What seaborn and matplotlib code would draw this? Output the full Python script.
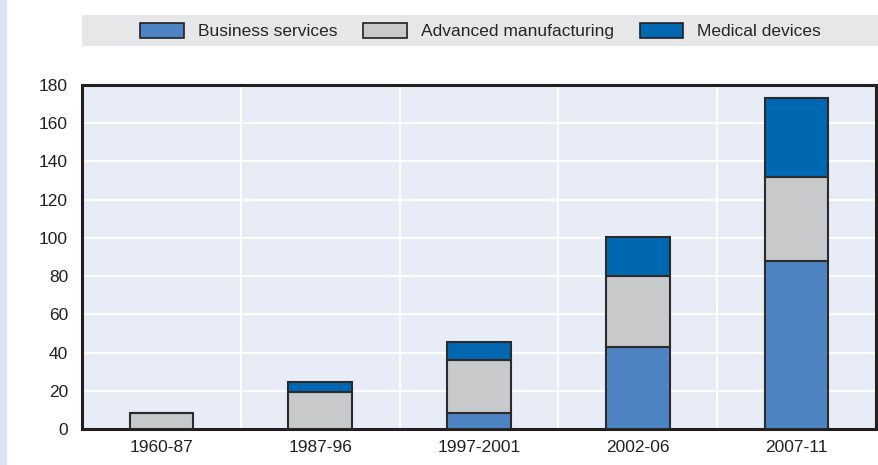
import numpy as np
import matplotlib
matplotlib.use("Agg")
import matplotlib.pyplot as plt
import seaborn as sns
from matplotlib.patches import Rectangle, Patch

periods = ["1960-87", "1987-96", "1997-2001", "2002-06", "2007-11"]
business = [0, 0, 8.5, 43, 88]
advanced = [8.5, 19.5, 27.5, 37, 44]
medical = [0, 5, 9.5, 20.5, 41]

series_names = ["Business services", "Advanced manufacturing", "Medical devices"]
colors = ["#4f84c4", "#c8c9cb", "#0067b1"]

sns.set_theme(style="white")
plt.rcParams['font.family'] = ['Liberation Sans Narrow', 'Liberation Sans', 'DejaVu Sans']

fig = plt.figure(figsize=(8.79, 4.65), dpi=100)
ax = fig.add_axes([82/879, 1-429/465, (876-82)/879, (429-85)/465])

# left strip and legend band
fig.patches.append(Rectangle((0, 0), 7/879, 1, transform=fig.transFigure,
                             facecolor="#dce6f2", edgecolor="none", zorder=0))
fig.patches.append(Rectangle((82/879, 1-46/465), 1-82/879, 31/465, transform=fig.transFigure,
                             facecolor="#e6e7e8", edgecolor="none", zorder=0))

ax.set_facecolor("#e8ecf7")
bottom1 = np.array(business)
bottom2 = bottom1 + np.array(advanced)
stack = [(business, 0), (advanced, bottom1), (medical, bottom2)]
for (vals, bot), c in zip(stack, colors):
    sns.barplot(x=periods, y=vals, bottom=bot, color=c, width=0.4, saturation=1,
                edgecolor="#2b2b2b", linewidth=1.5, ax=ax, zorder=3)

ax.set_xlim(-0.5, 4.5)
ax.set_ylim(0, 180)
ax.set_yticks(range(0, 181, 20))
ax.set_xticks(range(5))
ax.set_xticklabels(periods)
ax.set_xticks(np.arange(0.5, 4.5, 1), minor=True)
ax.grid(True, axis="y", which="major", color="white", linewidth=1.5, zorder=1)
ax.grid(True, axis="x", which="minor", color="white", linewidth=1.5, zorder=1)
ax.grid(False, axis="x", which="major")
ax.set_axisbelow(True)
ax.tick_params(axis="x", which="major", length=0, labelsize=12.5, colors="#231f20", pad=8)
ax.tick_params(axis="x", which="minor", direction="in", length=6, width=1.2, color="#888888")
ax.tick_params(axis="y", direction="in", length=8, width=1, color="#999999", labelsize=12.5,
               labelcolor="#231f20", pad=10)
for s in ax.spines.values():
    s.set_visible(True)
    s.set_color("#231f20")
    s.set_linewidth(2.2)
ax.set_xlabel("")
ax.set_ylabel("")

handles = [Patch(facecolor=c, edgecolor="#231f20", linewidth=1.2) for c in colors]
fig.legend(handles, series_names, loc="center", bbox_to_anchor=((82/879 + 1)/2, 1-31/465),
           ncol=3, frameon=False, fontsize=12.5, handlelength=2.5, handleheight=1.0,
           columnspacing=1.5, handletextpad=0.8)

fig.savefig("out.png", dpi=100)
